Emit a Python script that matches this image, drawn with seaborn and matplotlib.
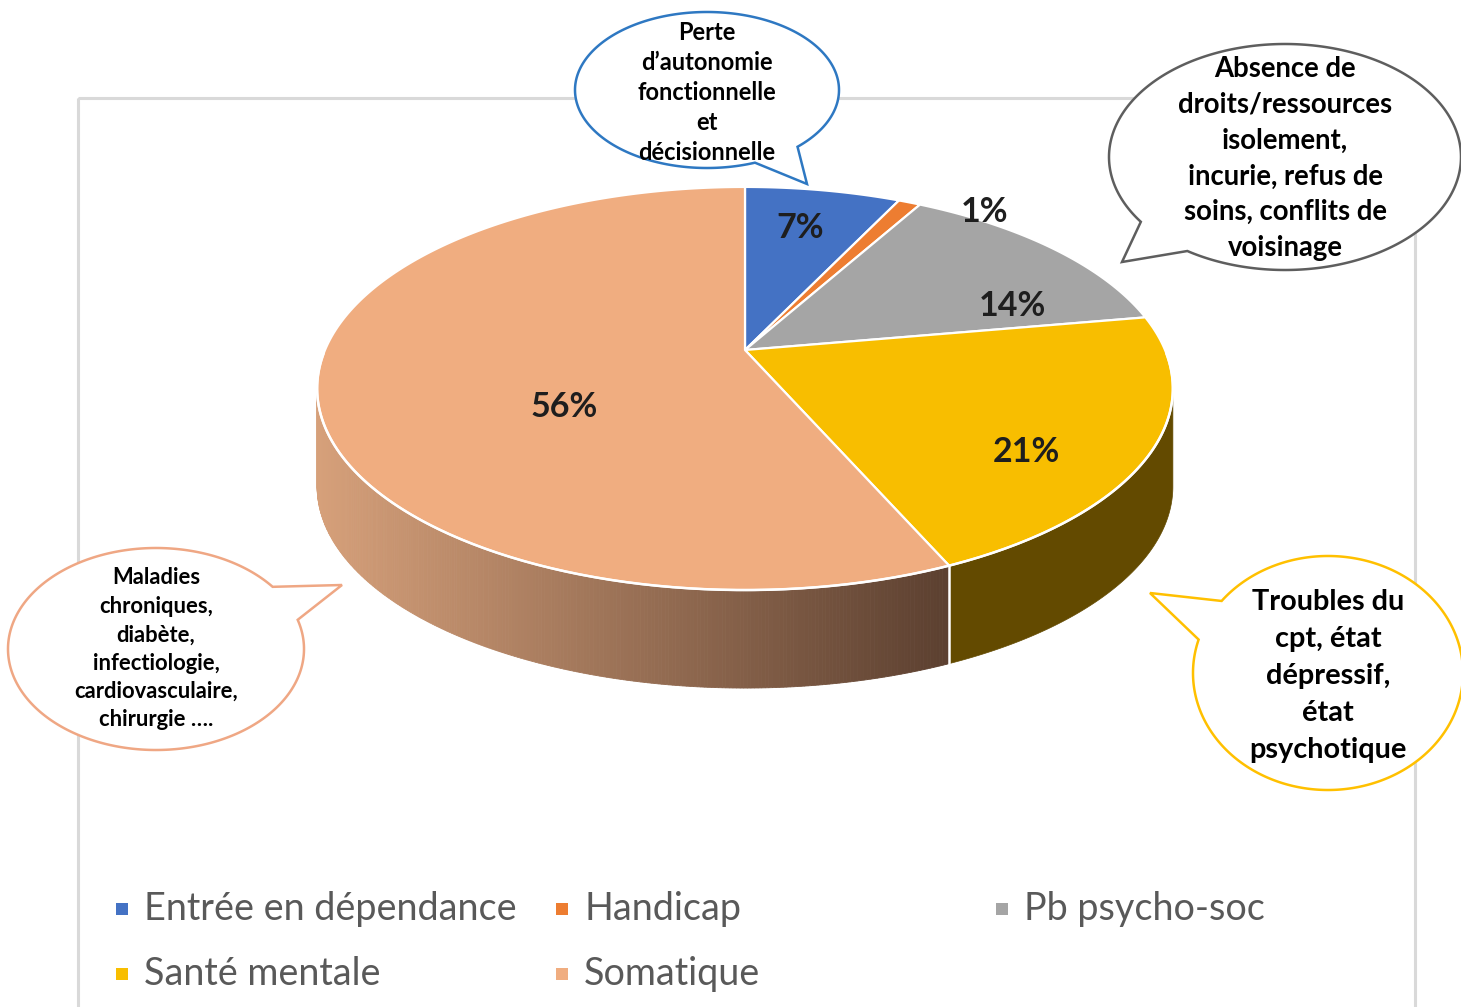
import numpy as np
import pandas as pd
import matplotlib.pyplot as plt
import seaborn as sns
from matplotlib.patches import Polygon, Rectangle

# data
categories = ["Entrée en dépendance", "Handicap", "Pb psycho-soc", "Santé mentale", "Somatique"]
shares = [7, 1, 14, 21, 56]
pct_labels = ["7%", "1%", "14%", "21%", "56%"]

bubble_texts = [
    ["Perte", "d\u2019autonomie", "fonctionnelle", "et", "décisionnelle"],
    ["Absence de", "droits/ressources", "isolement,", "incurie, refus de", "soins, conflits de", "voisinage"],
    ["Maladies", "chroniques,", "diabète,", "infectiologie,", "cardiovasculaire,", "chirurgie \u2026."],
    ["Troubles du", "cpt, état", "dépressif,", "état", "psychotique"],
]

# styling
top_colors = ["#4472C4", "#ED7D31", "#A5A5A5", "#F8BE00", "#F0AD80"]
side_colors = ["#2B4A80", "#9A4F1C", "#6B6B6B", "#634A00", None]
soma_side_left = np.array([214, 160, 122]) / 255
soma_side_right = np.array([92, 64, 48]) / 255

sns.set_theme(style="white")
plt.rcParams["font.family"] = ["Lato", "DejaVu Sans"]

W, H = 1461, 1007
fig = plt.figure(figsize=(W / 100, H / 100), dpi=100)
ax = fig.add_axes([0, 0, 1, 1])
ax.set_xlim(0, W)
ax.set_ylim(H, 0)
ax.axis("off")

# pie geometry (pixels), simple perspective of a tilted disk
CX, CY, RX, RY, B, DEPTH = 745, 350, 420, 194.2, -0.191, 98


def proj(t_deg, r=1.0, z=0.0):
    t = np.radians(t_deg)
    u = r * np.sin(t)
    v = -r * np.cos(t)
    d = 1 + B * v
    return CX + RX * u / d, CY + RY * v / d + z


# chart frame
ax.add_patch(Rectangle((78, 98), 1337, 1000, fill=False, edgecolor="#D9D9D9", lw=2.2, zorder=0))

total = sum(shares)
bounds = np.concatenate([[0], np.cumsum(shares) / total * 360])

# visible side walls (front half, silhouette between ~101 and ~259 deg)
SIDE_A, SIDE_B = 101.0, 259.0
for i in range(len(shares)):
    a0, a1 = max(bounds[i], SIDE_A), min(bounds[i + 1], SIDE_B)
    if a1 <= a0:
        continue
    if side_colors[i] is not None:
        ts = np.linspace(a0, a1, 120)
        top = [proj(t) for t in ts]
        bot = [proj(t, z=DEPTH) for t in ts[::-1]]
        ax.add_patch(Polygon(top + bot, closed=True, facecolor=side_colors[i],
                             edgecolor=side_colors[i], lw=0.5, zorder=2))
    else:
        ts = np.linspace(a0, a1, 260)
        for ta, tb in zip(ts[:-1], ts[1:]):
            pa, pb = proj(ta), proj(tb)
            xm = (pa[0] + pb[0]) / 2
            f = np.clip((xm - 318) / (945 - 318), 0, 1)
            c = soma_side_left * (1 - f) + soma_side_right * f
            quad = [pa, pb, proj(tb, z=DEPTH), proj(ta, z=DEPTH)]
            ax.add_patch(Polygon(quad, closed=True, facecolor=c, edgecolor=c, lw=0.6, zorder=2))

# seams on the side wall
for b in bounds[1:-1]:
    if SIDE_A < b < SIDE_B:
        x0, y0 = proj(b)
        x1, y1 = proj(b, z=DEPTH)
        ax.plot([x0, x1], [y0, y1], color="white", lw=1.8, zorder=3)

# top face wedges
for i in range(len(shares)):
    ts = np.linspace(bounds[i], bounds[i + 1], 200)
    pts = [(CX, CY)] + [proj(t) for t in ts]
    ax.add_patch(Polygon(pts, closed=True, facecolor=top_colors[i], edgecolor="white",
                         lw=1.6, joinstyle="round", zorder=4))

# front rim highlight
ts = np.linspace(SIDE_A - 10, SIDE_B + 10, 300)
rim = np.array([proj(t) for t in ts])
ax.plot(rim[:, 0], rim[:, 1], color="white", lw=1.8, zorder=5)

# percentage labels
label_xy = [(800, 228), (985, 212), (1012, 306), (1026, 452), (564, 407)]
for lab, (x, y) in zip(pct_labels, label_xy):
    ax.text(x, y, lab, ha="center", va="center", fontsize=24.5, fontweight="bold",
            color="#1E1E1E", zorder=6)

# speech bubbles
bubbles = [
    dict(c=(707, 90), r=(132, 78), base=(46.7, 68.7), tip=(807, 184), edge="#2E78C2",
         y0=32, dy=30, fs=17),
    dict(c=(1285, 157), r=(176, 113), base=(123.7, 145.0), tip=(1122, 262), edge="#5E5E5E",
         y0=69, dy=35.8, fs=19.8),
    dict(c=(156, 649), r=(148, 101), base=(-38.0, -16.8), tip=(342, 585), edge="#EFA784",
         y0=578, dy=28.4, fs=15.8),
    dict(c=(1328, 673), r=(135, 117), base=(-163.4, -142.0), tip=(1150, 593), edge="#FFC000",
         y0=602, dy=37, fs=20.8),
]
for bub, lines in zip(bubbles, bubble_texts):
    (cx, cy), (rx, ry) = bub["c"], bub["r"]
    a1, a2 = bub["base"]
    ang = np.radians(np.linspace(a2, a1 + 360, 400))
    pts = list(zip(cx + rx * np.cos(ang), cy + ry * np.sin(ang))) + [bub["tip"]]
    ax.add_patch(Polygon(pts, closed=True, facecolor="white", edgecolor=bub["edge"],
                         lw=1.8, joinstyle="miter", zorder=7))
    for k, line in enumerate(lines):
        ax.text(cx, bub["y0"] + k * bub["dy"], line, ha="center", va="center",
                fontsize=bub["fs"], fontweight="bold", color="black", zorder=8)

# legend
leg = pd.DataFrame({
    "category": categories,
    "x": [122, 562, 1002, 122, 562],
    "y": [909, 909, 909, 974, 974],
})
sns.scatterplot(data=leg, x="x", y="y", hue="category", palette=dict(zip(categories, top_colors)),
                marker="s", s=85, linewidth=0, legend=False, ax=ax, zorder=6)
for _, row in leg.iterrows():
    ax.text(row["x"] + 22, row["y"], row["category"], ha="left", va="center",
            fontsize=27.2, color="#595959", zorder=6)
ax.set_xlim(0, W)
ax.set_ylim(H, 0)
ax.set_xlabel("")
ax.set_ylabel("")

fig.savefig("out.png", dpi=100)
